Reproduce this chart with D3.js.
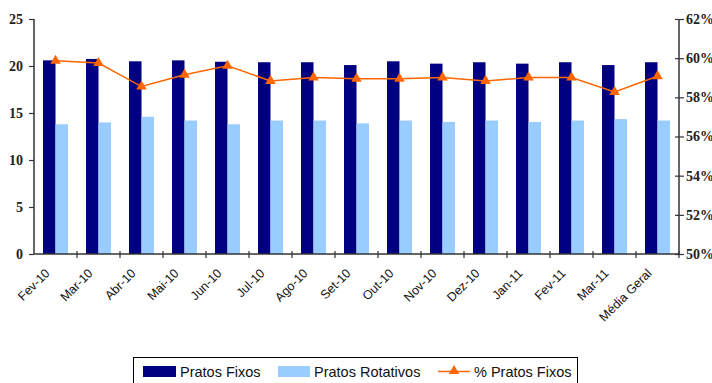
<!DOCTYPE html>
<html>
<head>
<meta charset="utf-8">
<script src="https://cdn.jsdelivr.net/npm/d3@7"></script>
<style>
  html, body { margin: 0; padding: 0; background: #fff; }
  svg { display: block; }
</style>
</head>
<body>
<svg id="chart" width="712" height="383"></svg>
<script>
// Monthly figures
const categories = ["Fev-10", "Mar-10", "Abr-10", "Mai-10", "Jun-10", "Jul-10", "Ago-10",
  "Set-10", "Out-10", "Nov-10", "Dez-10", "Jan-11", "Fev-11", "Mar-11", "Média Geral"];
const pratosFixos = [20.6, 20.75, 20.5, 20.6, 20.45, 20.4, 20.4, 20.1, 20.5, 20.25, 20.4, 20.25, 20.4, 20.1, 20.4];
const pratosRotativos = [13.8, 14.0, 14.6, 14.2, 13.8, 14.2, 14.2, 13.9, 14.2, 14.05, 14.2, 14.05, 14.2, 14.35, 14.2];
const pctPratosFixos = [0.5987, 0.5975, 0.5855, 0.5915, 0.5961, 0.5884, 0.5901, 0.5895, 0.5895, 0.5901,
  0.5884, 0.5901, 0.5901, 0.5828, 0.5908];
const leftTicks = [0, 5, 10, 15, 20, 25];
const rightTicks = [0.50, 0.52, 0.54, 0.56, 0.58, 0.60, 0.62];
const seriesNames = ["Pratos Fixos", "Pratos Rotativos", "% Pratos Fixos"];

const colFixos = "#000080", colRot = "#99CCFF", colPct = "#FF6600", axisCol = "#333";

const svg = d3.select("#chart");
const plotL = 34, plotR = 679, plotT = 19, plotB = 254;

const x = d3.scaleBand().domain(categories).range([plotL, plotR]);
const yL = d3.scaleLinear().domain([0, 25]).range([plotB, plotT]);
const yR = d3.scaleLinear().domain([0.50, 0.62]).range([plotB, plotT]);
const barW = 12.5;
const cx = c => x(c) + x.bandwidth() / 2;

// Bars
svg.append("g").selectAll("rect").data(categories).join("rect")
  .attr("x", c => cx(c) - barW).attr("width", barW)
  .attr("y", (c, i) => yL(pratosFixos[i])).attr("height", (c, i) => plotB - yL(pratosFixos[i]))
  .attr("fill", colFixos);
svg.append("g").selectAll("rect").data(categories).join("rect")
  .attr("x", c => cx(c)).attr("width", barW)
  .attr("y", (c, i) => yL(pratosRotativos[i])).attr("height", (c, i) => plotB - yL(pratosRotativos[i]))
  .attr("fill", colRot);

// Left axis
const gL = svg.append("g").attr("transform", `translate(${plotL},0)`)
  .call(d3.axisLeft(yL).tickValues(leftTicks).tickSize(5).tickPadding(6).tickFormat(d3.format("d")));
// Right axis
const gR = svg.append("g").attr("transform", `translate(${plotR},0)`)
  .call(d3.axisRight(yR).tickValues(rightTicks).tickSize(5).tickPadding(2).tickFormat(d3.format(".0%")));
gR.selectAll(".tick line").attr("x1", -4);
[gL, gR].forEach(g => {
  g.select(".domain").attr("stroke", axisCol).attr("stroke-width", 1.5).attr("d", `M0,${plotT}V${plotB}`);
  g.selectAll(".tick line").attr("stroke", axisCol).attr("stroke-width", 1.2);
  g.selectAll(".tick text").attr("font-family", "'Liberation Serif', 'Times New Roman', serif")
    .attr("font-weight", "bold").attr("font-size", 14).attr("fill", "#222");
});

// Bottom axis with ticks between categories
const gB = svg.append("g").attr("transform", `translate(0,${plotB})`);
gB.append("line").attr("x1", plotL).attr("x2", plotR).attr("stroke", axisCol).attr("stroke-width", 1.5);
gB.selectAll("line.tk").data(categories.slice(1).concat([null])).join("line").attr("class", "tk")
  .attr("x1", c => c ? x(c) : plotR).attr("x2", c => c ? x(c) : plotR)
  .attr("y1", -3).attr("y2", 4).attr("stroke", axisCol).attr("stroke-width", 1.2);
gB.selectAll("text").data(categories).join("text")
  .attr("transform", c => `translate(${cx(c) - 5},${20}) rotate(-45)`)
  .attr("text-anchor", "end")
  .attr("font-family", "'Liberation Sans', Arial, sans-serif").attr("font-size", 12.5).attr("fill", "#111")
  .text(c => c);

// Percentage line with triangle markers
const line = d3.line().x(c => cx(c)).y((c, i) => yR(pctPratosFixos[i]));
svg.append("path").datum(categories).attr("d", line)
  .attr("fill", "none").attr("stroke", colPct).attr("stroke-width", 1.5);
const tri = d3.symbol().type(d3.symbolTriangle).size(48);
svg.append("g").selectAll("path").data(categories).join("path")
  .attr("d", tri).attr("fill", colPct)
  .attr("transform", (c, i) => `translate(${cx(c)},${yR(pctPratosFixos[i])})`);

// Legend
const lg = svg.append("g");
lg.append("rect").attr("x", 133.5).attr("y", 357.5).attr("width", 444).attr("height", 40)
  .attr("fill", "#fff").attr("stroke", "#000").attr("stroke-width", 1);
const lgFont = "'Liberation Sans', Arial, sans-serif";
lg.append("rect").attr("x", 143).attr("y", 366).attr("width", 33).attr("height", 11).attr("fill", colFixos);
lg.append("rect").attr("x", 278).attr("y", 366).attr("width", 32).attr("height", 11).attr("fill", colRot);
lg.append("line").attr("x1", 438).attr("x2", 470).attr("y1", 371.5).attr("y2", 371.5)
  .attr("stroke", colPct).attr("stroke-width", 1.5);
lg.append("path").attr("d", tri).attr("fill", colPct).attr("transform", "translate(454,371)");
[[180, 0], [314, 1], [474, 2]].forEach(([lx, k]) => {
  lg.append("text").attr("x", lx).attr("y", 376.5).attr("font-family", lgFont)
    .attr("font-size", 14.5).attr("fill", "#111").text(seriesNames[k]);
});
</script>
</body>
</html>
